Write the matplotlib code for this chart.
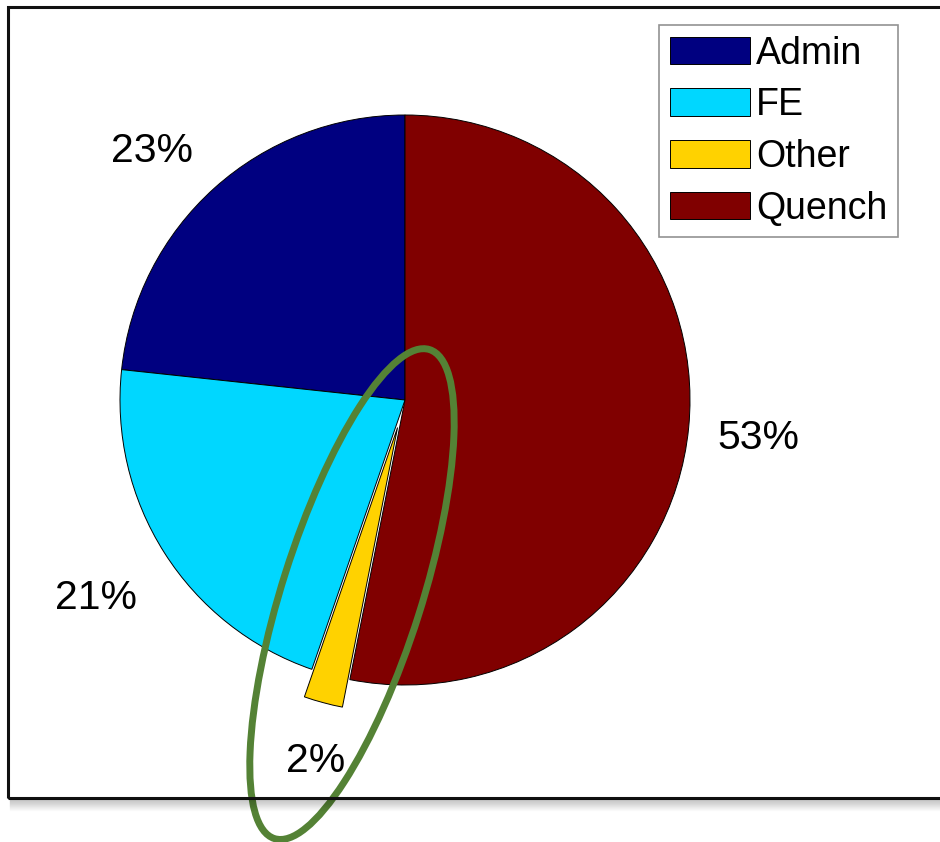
import matplotlib.pyplot as plt
from matplotlib.patches import Ellipse, Rectangle
from matplotlib.lines import Line2D

plt.rcParams['font.family'] = ['Liberation Sans', 'DejaVu Sans']

# time split by category
categories = ['Admin', 'FE', 'Other', 'Quench']
shares = [23.3, 21.4, 2.2, 53.1]
colors = ['#000080', '#00D7FF', '#FFD200', '#800000']
explode = [0, 0, 0.1, 0]

fig = plt.figure(figsize=(9.4, 8.42), dpi=100)
ax = fig.add_axes([0, 0, 1, 1])

wedges, texts = ax.pie(shares, colors=colors, explode=explode, startangle=90,
                       counterclock=True, radius=1, labeldistance=1.1,
                       labels=['%d%%' % round(s) for s in shares],
                       wedgeprops=dict(edgecolor='black', linewidth=0.7),
                       textprops=dict(fontsize=29.5))

# text alignment like matlab's pie labels
for t in texts:
    x, y = t.get_position()
    t.set_ha('center' if abs(x) < 0.4 else ('left' if x > 0 else 'right'))
    t.set_va('center' if abs(y) < 0.3 else ('bottom' if y > 0 else 'top'))
    if abs(y) < 0.3:
        y -= 0.025
    elif y < 0:
        y -= 0.04
    else:
        y -= 0.01
    t.set_position((x - 0.01 if x < -0.4 else x, y))

ax.set_xlim(-405 / 285, 535 / 285)
ax.set_ylim(-442 / 285, 400 / 285)
ax.set_aspect('equal')
ax.axis('off')

leg = ax.legend(wedges, categories, loc='upper left',
                bbox_to_anchor=(659 / 940, 1 - 25 / 842), fontsize=27,
                frameon=True, fancybox=False, edgecolor='#777777',
                handlelength=2.15, handleheight=0.75, handletextpad=0.15,
                labelspacing=0.42, borderpad=0.28, borderaxespad=0)
leg.get_frame().set_linewidth(1.2)

# outer frame with a soft drop shadow
fl, fb, ft = 8 / 940, 1 - 798 / 842, 1 - 7 / 842
for i in range(12):
    y = fb - (i + 1) / 842
    fig.add_artist(Line2D([fl + 2 / 940, 1], [y, y], transform=fig.transFigure,
                          color='black', alpha=0.18 * (1 - i / 12), lw=1))
fig.add_artist(Rectangle((fl, fb), 1.05 - fl, ft - fb, transform=fig.transFigure,
                         fill=False, edgecolor='#111111', lw=2.2))

# highlight around the small slice
ring = Ellipse((-0.186, -0.681), 0.49, 1.80, angle=-17.6, fill=False,
               edgecolor='#548235', lw=5, clip_on=False, zorder=10)
ax.add_patch(ring)

fig.savefig('out.png', dpi=100)
